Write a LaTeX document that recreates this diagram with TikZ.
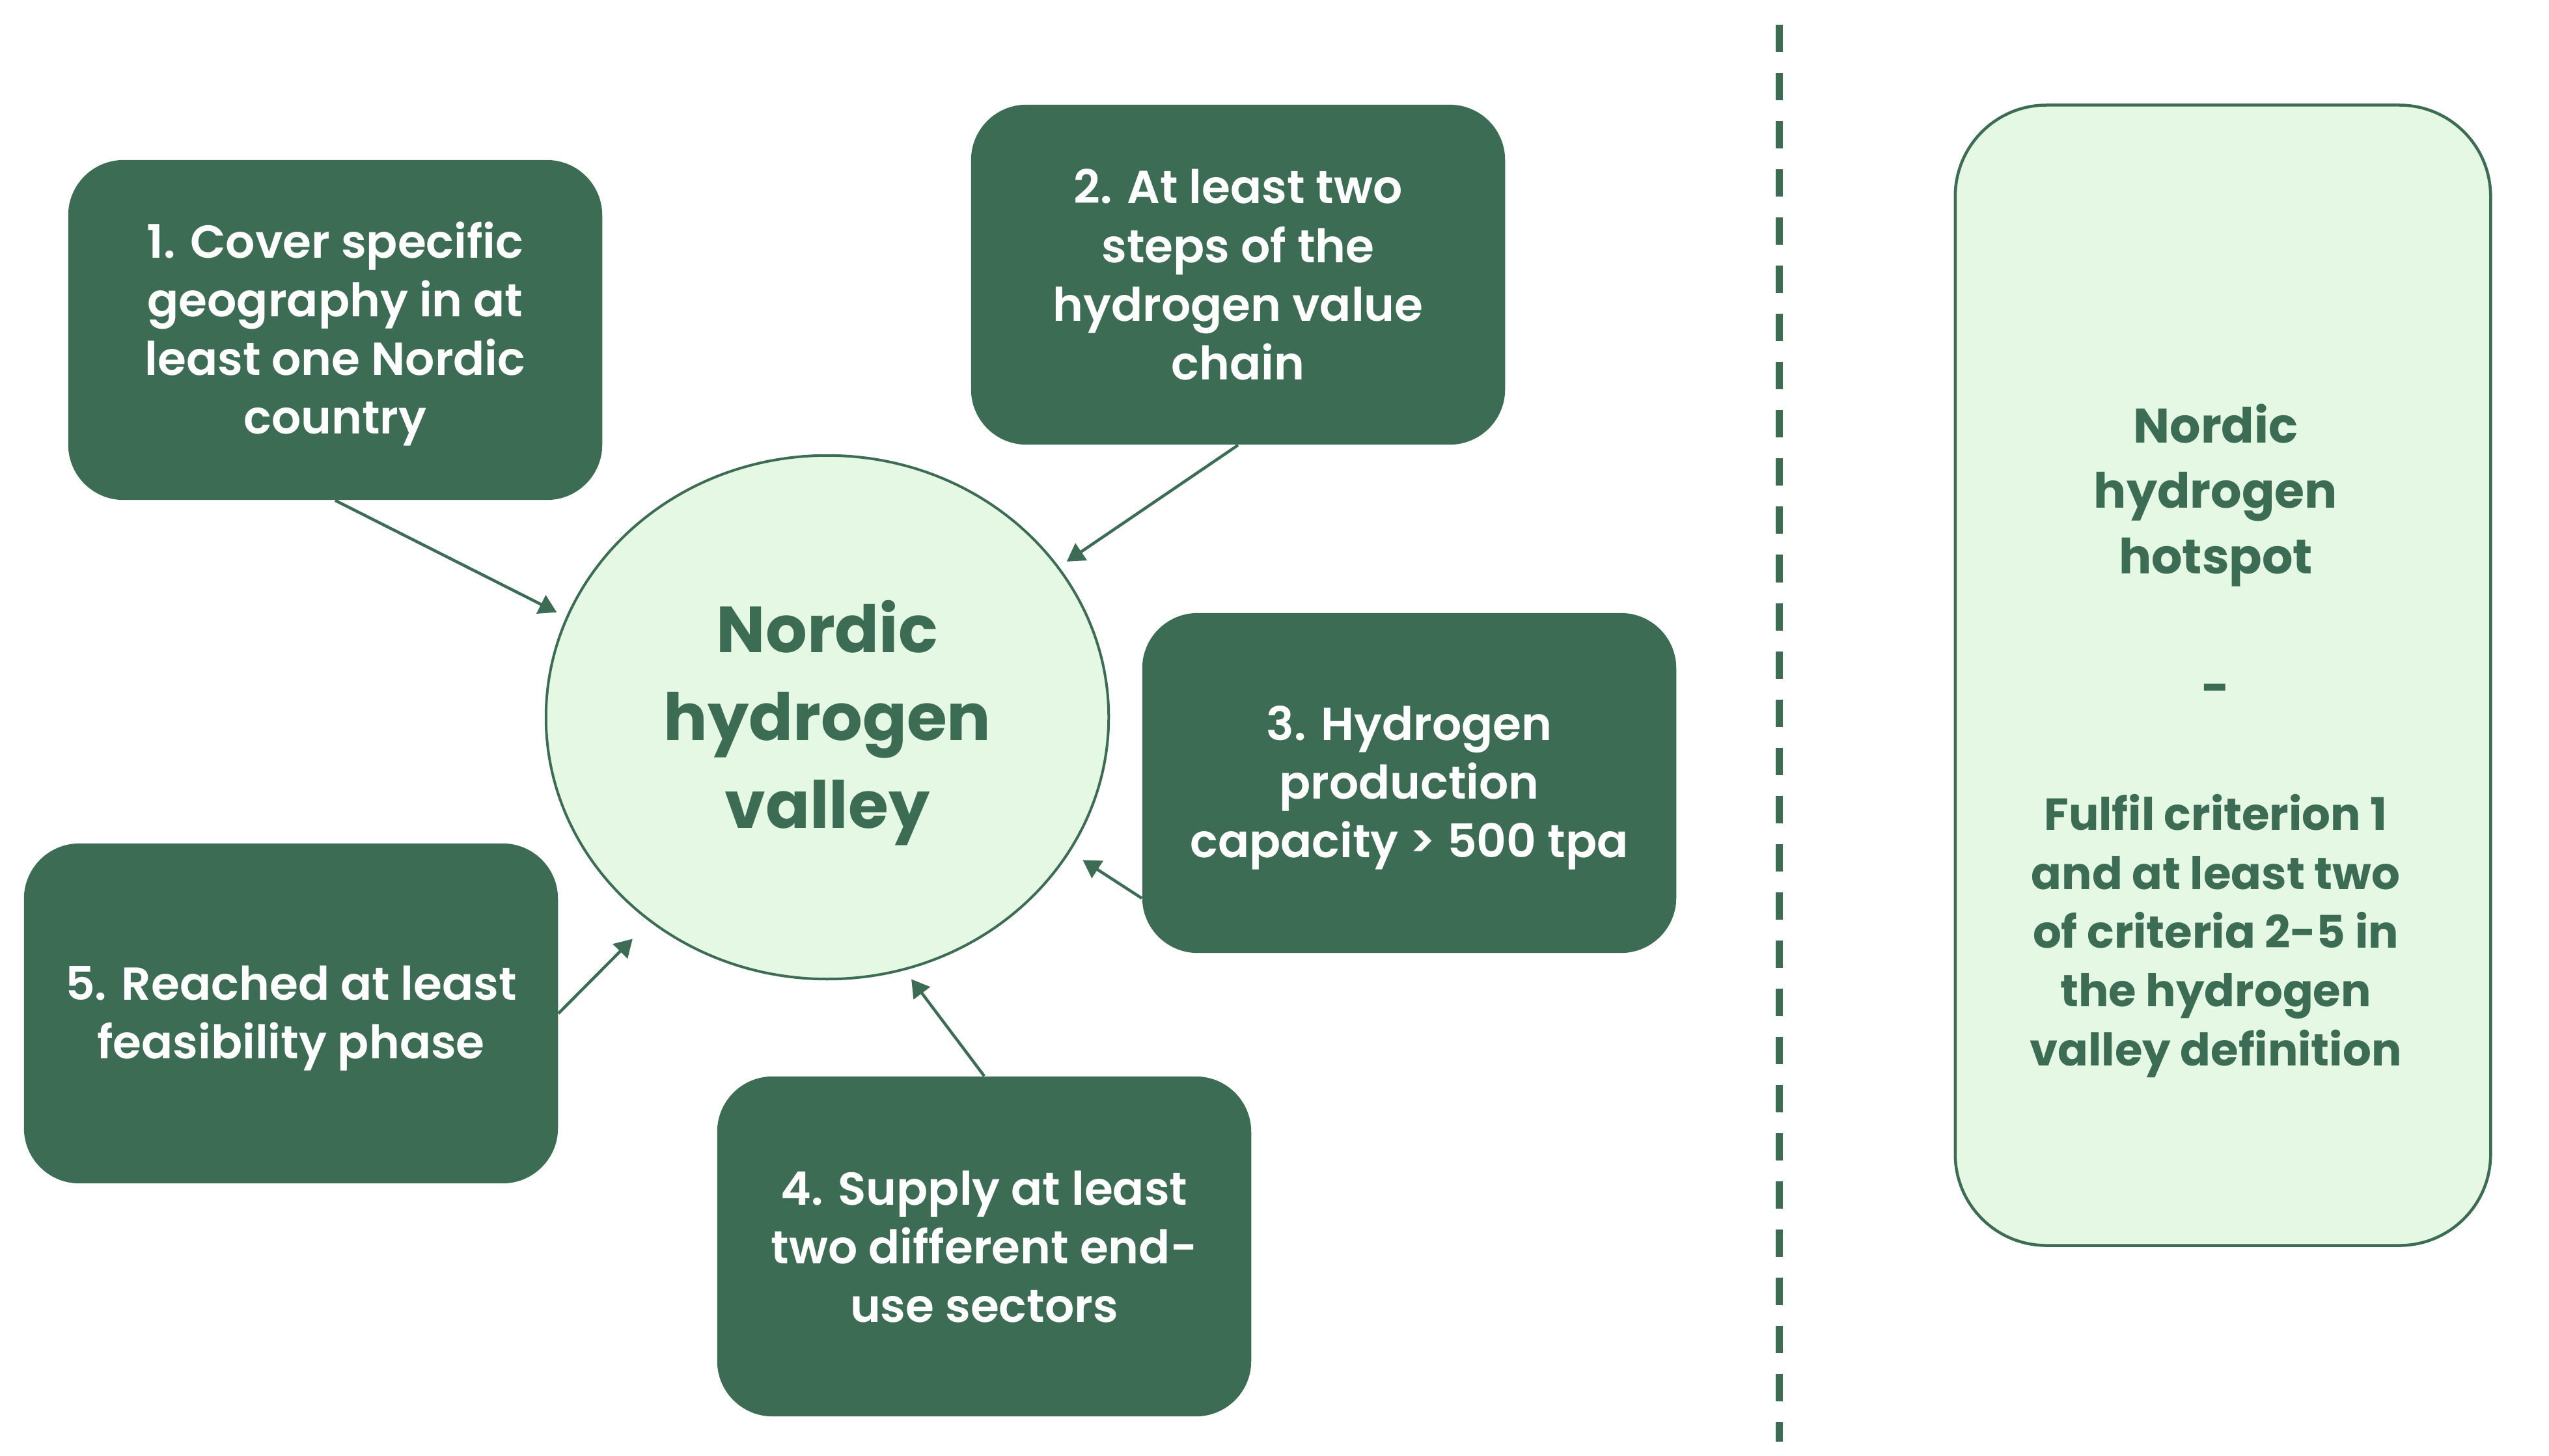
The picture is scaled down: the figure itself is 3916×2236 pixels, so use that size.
\documentclass[tikz,border=0pt]{standalone}
\usepackage{fontspec}
\setmainfont{Poppins}
\newfontfamily\critfont{Poppins SemiBold}
\usetikzlibrary{arrows.meta,shapes.geometric,calc}
\definecolor{dkgreen}{HTML}{3C6C54}
\definecolor{ltgreen}{HTML}{E4F8E3}
\newcommand\cstr{\rule[-4.2pt]{0pt}{23.2pt}}
\newcommand\vstr{\rule[-7pt]{0pt}{34.5pt}}
\tikzset{
  crit/.style={rectangle, rounded corners=0.85cm, fill=dkgreen, text=white,
    minimum width=8.2cm, minimum height=5.22cm, inner sep=0pt, align=center,
    font=\critfont\fontsize{20.2}{25.6}\selectfont},
  valley/.style={ellipse, draw=dkgreen, line width=0.04cm, fill=ltgreen,
    minimum width=8.64cm, minimum height=8.04cm, inner sep=0pt, align=center,
    text=dkgreen, font=\bfseries\fontsize{28.5}{38.4}\selectfont},
  feed/.style={draw=dkgreen, line width=0.045cm, -{Triangle[length=0.27cm,width=0.31cm]}},
  hotbox/.style={rectangle, rounded corners=1.4cm, draw=dkgreen, line width=0.045cm,
    fill=ltgreen, minimum width=8.22cm, minimum height=17.51cm, inner sep=0pt},
  hottitle/.style={align=center, text=dkgreen, inner sep=0pt,
    font=\bfseries\fontsize{21.2}{28.5}\selectfont},
  hotbody/.style={align=center, text=dkgreen, inner sep=0pt,
    font=\bfseries\fontsize{19.6}{25.7}\selectfont},
  divider/.style={draw=dkgreen, line width=0.11cm, dash pattern=on 0.42cm off 0.32cm}
}
\begin{document}
\begin{tikzpicture}[x=0.01cm, y=-0.01cm]
\useasboundingbox (0,0) rectangle (3916,2236);

% central valley
\node[valley] (c) at (1271,1102) {\vstr Nordic\\hydrogen\\\vstr valley};

% criteria
\node[crit] (b1) at (515,507) {\cstr 1. Cover specific\\geography in at\\least one Nordic\\\cstr country};
\node[crit] (b2) at (1902,422) {\cstr 2. At least two\\steps of the\\hydrogen value\\\cstr chain};
\node[crit] (b3) at (2165,1203) {\cstr 3. Hydrogen\\production\\\cstr capacity > 500 tpa};
\node[crit] (b4) at (1512,1915) {\cstr 4. Supply at least\\two different end-\\\cstr use sectors};
\node[crit] (b5) at (447,1557) {\cstr 5. Reached at least\\\cstr feasibility phase};

% connectors
\draw[feed, shorten >=0.16cm] (b1.south) -- (c.159);
\draw[feed, shorten >=0.14cm] (b2.south) -- (c.33.5);
\draw[feed, shorten >=0.23cm] ($(b3.west)+(0,177)$) -- (c.331);
\draw[feed, shorten >=0.17cm] (b4.north) -- (c.287);
\draw[feed, shorten >=0.37cm] (b5.east) -- (c.229);

% divider
\draw[divider] (2733,38) -- (2733,2215);

% hotspot box
\node[hotbox] (hb) at (3415,1037.5) {};
\node[hottitle] (ht) at (3404,761) {Nordic\\hydrogen\\hotspot};
\node[hottitle] (hd) at (3404,1067) {-};
\node[hotbody] (hx) at (3404,1438) {Fulfil criterion 1\\and at least two\\of criteria 2-5 in\\the hydrogen\\valley definition};
\end{tikzpicture}
\end{document}
